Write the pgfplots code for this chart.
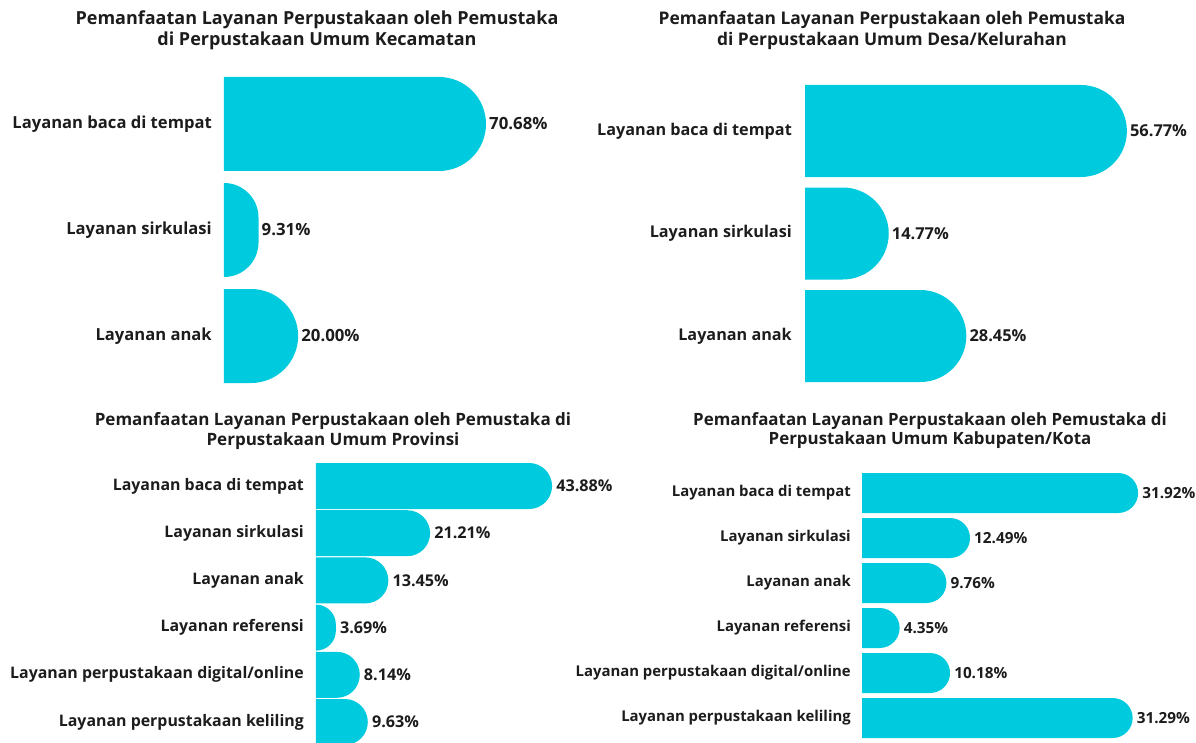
\documentclass[border=0pt]{standalone}
\usepackage{pgfplots}
\usepackage{pgfplotstable}
\pgfplotsset{compat=1.18}
\usepackage{fontspec}
\setmainfont{Open Sans}
\definecolor{barc}{RGB}{0,202,222}
\definecolor{txt}{RGB}{28,28,28}
\def\bh{47}
\def\xu{3.707}
\pgfdeclareplotmark{rbar}{%
  \pgfmathsetmacro\rbL{\rbv*\xu}%
  \pgfmathsetmacro\rbR{min(\bh,\rbL)}%
  \pgfmathsetmacro\rbS{\bh-\rbR}%
  \pgfpathmoveto{\pgfpoint{-\rbL pt}{-\bh pt}}%
  \pgfpathlineto{\pgfpoint{-\rbR pt}{-\bh pt}}%
  \pgfpatharc{-90}{0}{\rbR pt}%
  \pgfpathlineto{\pgfpoint{0pt}{\rbS pt}}%
  \pgfpatharc{0}{90}{\rbR pt}%
  \pgfpathlineto{\pgfpoint{-\rbL pt}{\bh pt}}%
  \pgfpathclose
  \pgfusepathqfill
}
\pgfplotsset{
  roundbars/.style={
    only marks, mark=rbar, point meta=x,
    mark options={fill=barc, draw=none},
    visualization depends on={\thisrow{v} \as \rbv},
    nodes near coords={\pgfmathprintnumber[fixed,fixed zerofill,precision=2,assume math mode=true]{\pgfplotspointmeta}\%},
    every node near coord/.append style={anchor=west, inner sep=0pt, xshift=#1, text=txt},
  },
  rbaxis/.style={
    anchor=south west, clip=false, xmin=0, ymin=-0.5, y dir=reverse,
    axis line style={draw=none}, major tick style={draw=none}, major tick length=0pt,
    xtick=\empty,
    yticklabel style={anchor=east, inner sep=0pt, text=txt},
  },
}
\pgfplotstableread{
i v
0 70.68
1 9.31
2 20.00
}\dataA
\pgfplotstableread{
i v
0 56.77
1 14.77
2 28.45
}\dataB
\pgfplotstableread{
i v
0 43.88
1 21.21
2 13.45
3 3.69
4 8.14
5 9.63
}\dataC
\pgfplotstableread{
i v
0 31.92
1 12.49
2 9.76
3 4.35
4 10.18
5 31.29
}\dataD
\begin{document}
\begin{tikzpicture}
\useasboundingbox (0,0) rectangle (1196pt,742pt);
\tikzset{ttl/.style={align=center, text=txt}}
\node[ttl, font=\fontsize{18}{21}\selectfont\bfseries] at (317pt,712pt) {Pemanfaatan Layanan Perpustakaan oleh Pemustaka\\di Perpustakaan Umum Kecamatan};
\node[ttl, font=\fontsize{17.4}{21}\selectfont\bfseries] at (892pt,712pt) {Pemanfaatan Layanan Perpustakaan oleh Pemustaka\\di Perpustakaan Umum Desa/Kelurahan};
\node[ttl, font=\fontsize{17}{19.5}\selectfont\bfseries] at (333pt,311pt) {Pemanfaatan Layanan Perpustakaan oleh Pemustaka di\\Perpustakaan Umum Provinsi};
\node[ttl, font=\fontsize{16.9}{19.5}\selectfont\bfseries] at (930pt,311.5pt) {Pemanfaatan Layanan Perpustakaan oleh Pemustaka di\\Perpustakaan Umum Kabupaten/Kota};

% Chart 1: Kecamatan
\def\bh{47}\def\xu{3.707}
\begin{axis}[rbaxis, at={(224pt,353pt)}, x=3.707pt, y=106pt, xmax=80, ymax=2.5,
  ytick={0,1,2},
  yticklabels={Layanan baca di tempat, Layanan sirkulasi, Layanan anak},
  yticklabel style={xshift=-12pt, font=\fontsize{16.6}{19}\selectfont\bfseries},
  every node near coord/.append style={font=\fontsize{16.8}{19}\selectfont\bfseries}]
\addplot[roundbars=3pt] table[x=v,y=i]{\dataA};
\end{axis}

% Chart 2: Desa/Kelurahan
\def\bh{46}\def\xu{5.67}
\begin{axis}[rbaxis, at={(805pt,354.75pt)}, x=5.67pt, y=102.5pt, xmax=60, ymax=2.5,
  ytick={0,1,2},
  yticklabels={Layanan baca di tempat, Layanan sirkulasi, Layanan anak},
  yticklabel style={xshift=-13pt, font=\fontsize{16.2}{19}\selectfont\bfseries},
  every node near coord/.append style={font=\fontsize{16.4}{19}\selectfont\bfseries}]
\addplot[roundbars=3pt] table[x=v,y=i]{\dataB};
\end{axis}

% Chart 3: Provinsi
\def\bh{23}\def\xu{5.38}
\begin{axis}[rbaxis, at={(316pt,-3.6pt)}, x=5.38pt, y=47.2pt, xmax=46, ymax=5.5,
  ytick={0,1,2,3,4,5},
  yticklabels={Layanan baca di tempat, Layanan sirkulasi, Layanan anak, Layanan referensi, Layanan perpustakaan digital/online, Layanan perpustakaan keliling},
  yticklabel style={xshift=-12pt, font=\fontsize{15.9}{18}\selectfont\bfseries},
  every node near coord/.append style={font=\fontsize{16.2}{18}\selectfont\bfseries}]
\addplot[roundbars=4pt] table[x=v,y=i]{\dataC};
\end{axis}

% Chart 4: Kabupaten/Kota
\def\bh{20}\def\xu{8.65}
\begin{axis}[rbaxis, at={(862pt,1.5pt)}, x=8.65pt, y=45pt, xmax=33, ymax=5.5,
  ytick={0,1,2,3,4,5},
  yticklabels={Layanan baca di tempat, Layanan sirkulasi, Layanan anak, Layanan referensi, Layanan perpustakaan digital/online, Layanan perpustakaan keliling},
  yticklabel style={xshift=-11pt, font=\fontsize{14.9}{17}\selectfont\bfseries},
  every node near coord/.append style={font=\fontsize{15.3}{17}\selectfont\bfseries}]
\addplot[roundbars=4pt] table[x=v,y=i]{\dataD};
\end{axis}
\end{tikzpicture}
\end{document}
